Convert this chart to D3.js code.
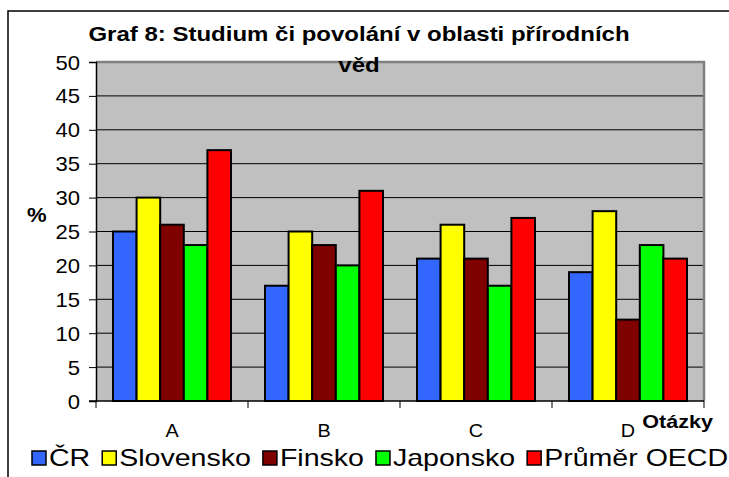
<!DOCTYPE html>
<html>
<head>
<meta charset="utf-8">
<script src="https://cdn.jsdelivr.net/npm/d3@7"></script>
<style>
  body { margin: 0; background: #fff; }
  svg { display: block; font-family: "Liberation Sans", Arial, sans-serif; }
</style>
</head>
<body>
<div id="chart"></div>
<script>
// Data
let questions = ["A", "B", "C", "D"];
let countries = ["ČR", "Slovensko", "Finsko", "Japonsko", "Průměr OECD"];
let colors = ["#3366ff", "#ffff00", "#800000", "#00ff00", "#ff0000"];
let valuesCR = [25, 17, 21, 19];
let valuesSK = [30, 25, 26, 28];
let valuesFI = [26, 23, 21, 12];
let valuesJP = [23, 20, 17, 23];
let valuesOECD = [37, 31, 27, 21];
let yTicks = [0, 5, 10, 15, 20, 25, 30, 35, 40, 45, 50];

let series = [valuesCR, valuesSK, valuesFI, valuesJP, valuesOECD];

let width = 729, height = 477;

let svg = d3.select("#chart").append("svg")
  .attr("width", width)
  .attr("height", height);

// helper for text, the original looks a bit stretched sideways
function addText(x, y, str, opts) {
  let sx = opts.stretch || 1.15;
  let t = svg.append("text")
    .attr("transform", `translate(${x},${y}) scale(${sx},1)`)
    .attr("font-size", opts.size || 20)
    .attr("font-weight", opts.bold ? "bold" : "normal")
    .attr("text-anchor", opts.anchor || "start")
    .attr("fill", "#000")
    .text(str);
  return t;
}

// outer frame (only left and top visible)
svg.append("path")
  .attr("d", `M8,${height} L8,11 L${width},11`)
  .attr("fill", "none")
  .attr("stroke", "#000")
  .attr("stroke-width", 1.5);

let plotLeft = 96, plotRight = 704, plotTop = 62, plotBottom = 401;

let y = d3.scaleLinear().domain([0, 50]).range([plotBottom, plotTop]);
let x0 = d3.scaleBand().domain(questions).range([plotLeft, plotRight])
  .paddingInner(0.2237).paddingOuter(0.1118);
let x1 = d3.scaleBand().domain(d3.range(countries.length)).range([0, x0.bandwidth()]);

// plot background
svg.append("rect")
  .attr("x", plotLeft).attr("y", plotTop)
  .attr("width", plotRight - plotLeft).attr("height", plotBottom - plotTop)
  .attr("fill", "#c0c0c0");

// gridlines
svg.append("g").selectAll("line")
  .data(yTicks.filter(d => d > 0 && d < 50))
  .enter().append("line")
  .attr("x1", plotLeft).attr("x2", plotRight)
  .attr("y1", d => y(d)).attr("y2", d => y(d))
  .attr("stroke", "#000").attr("stroke-width", 1);

// top and right border of plot
svg.append("path")
  .attr("d", `M${plotLeft},${plotTop} L${plotRight},${plotTop} L${plotRight},${plotBottom}`)
  .attr("fill", "none").attr("stroke", "#808080").attr("stroke-width", 2.5);

// bars
let groups = svg.append("g").selectAll("g")
  .data(questions)
  .enter().append("g")
  .attr("transform", d => `translate(${x0(d)},0)`);

groups.selectAll("rect")
  .data((q, qi) => series.map((s, si) => ({ si: si, v: s[qi] })))
  .enter().append("rect")
  .attr("x", d => x1(d.si))
  .attr("y", d => y(d.v))
  .attr("width", x1.bandwidth())
  .attr("height", d => y(0) - y(d.v))
  .attr("fill", d => colors[d.si])
  .attr("stroke", "#000")
  .attr("stroke-width", 2);

// y axis
let yAxis = d3.axisLeft(y).tickValues(yTicks).tickSize(7).tickPadding(8);
let yg = svg.append("g").attr("transform", `translate(${plotLeft},0)`).call(yAxis);
yg.select(".domain").attr("stroke", "#000").attr("stroke-width", 1.5);
yg.selectAll(".tick line").attr("stroke", "#000");
yg.selectAll(".tick text").remove();
yTicks.forEach(t => addText(80, y(t) + 7.5, t, { anchor: "end", size: 21, stretch: 1.05 }));

// x axis
let boundaries = questions.map((q, i) => plotLeft + i * x0.step()).concat([plotRight]);
svg.append("line")
  .attr("x1", plotLeft - 7).attr("x2", plotRight)
  .attr("y1", plotBottom).attr("y2", plotBottom)
  .attr("stroke", "#000").attr("stroke-width", 1.5);
svg.append("g").selectAll("line")
  .data(boundaries)
  .enter().append("line")
  .attr("x1", d => d).attr("x2", d => d)
  .attr("y1", plotBottom).attr("y2", plotBottom + 7)
  .attr("stroke", "#000");
questions.forEach(q => addText(x0(q) + x0.bandwidth() / 2, 437, q, { anchor: "middle", size: 18, stretch: 1.1 }));

// axis titles
addText(713, 428, "Otázky", { anchor: "end", size: 18, bold: true, stretch: 1.2 });
addText(27, 222, "%", { anchor: "start", size: 21, bold: true, stretch: 1.05 });

// chart title
addText(359, 41, "Graf 8: Studium či povolání v oblasti přírodních", { anchor: "middle", size: 20, bold: true, stretch: 1.2 });
addText(359, 72, "věd", { anchor: "middle", size: 20, bold: true, stretch: 1.2 });

// legend
let lx = 32;
countries.forEach((c, i) => {
  svg.append("rect")
    .attr("x", lx).attr("y", 451)
    .attr("width", 14).attr("height", 14)
    .attr("fill", colors[i]).attr("stroke", "#000").attr("stroke-width", 1.5);
  let t = addText(lx + 17, 466, c, { size: 24, stretch: 1.19 });
  let w = t.node().getComputedTextLength() * 1.19;
  lx += 17 + w + 12;
});
</script>
</body>
</html>
